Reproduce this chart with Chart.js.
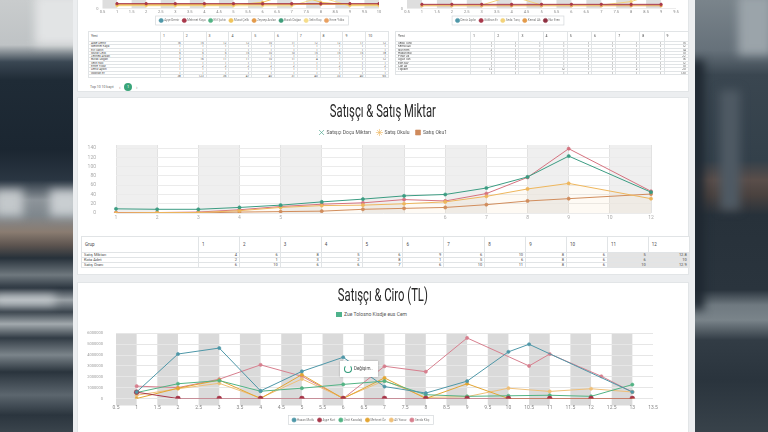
<!DOCTYPE html>
<html lang="tr">
<head>
<meta charset="utf-8">
<title>Satışçı Raporu</title>
<script src="https://cdn.jsdelivr.net/npm/chart.js@4/dist/chart.umd.min.js"></script>
<style>
html,body{margin:0;padding:0}
body{position:relative;width:768px;height:432px;overflow:hidden;background:#2b353e;font-family:Roboto,"Noto Sans",sans-serif}
.bg{position:absolute;top:0;height:432px;overflow:hidden}
#bgL{left:0;width:80px;background:linear-gradient(180deg,#c9cccd 0,#bfc3c5 45px,#3a4753 62px,#1f2b36 80px,#1b2631 150px,#2a3642 180px,#8d949a 200px,#7f878d 215px,#8a7c71 232px,#5e5550 245px,#27313a 258px,#6f787e 275px,#2c3640 288px,#9aa1a6 300px,#3b454e 312px,#a2a9ad 324px,#323c45 338px,#7b848a 355px,#2a343d 372px,#5c666e 395px,#2b353e 415px,#3a444c 432px)}
#bgR{left:688px;width:80px;background:linear-gradient(180deg,#7a848b 0,#66717a 50px,#3a4650 75px,#33404a 160px,#5a4e4a 180px,#4a423f 195px,#27313a 215px,#2a343d 290px,#6f7980 305px,#7a848a 320px,#323c45 340px,#2a343d 380px,#38424a 432px)}
.blob{position:absolute;filter:blur(5px)}
.panel{position:absolute;left:73px;top:0;width:622px;height:432px;background:#eceef0}
.card{position:absolute;left:77px;width:612px;background:#fff;border:1px solid #e2e5e7;box-sizing:border-box}
.box{position:absolute}
.ttl{position:absolute;left:77px;width:612px;text-align:center;white-space:nowrap;color:#262626;font-size:18px;line-height:22px}
.ttl span{display:inline-block;transform-origin:50% 50%}
table{position:absolute;border-collapse:collapse;table-layout:fixed;background:#fff;color:#4a4a4a}
td{border:1px solid #e1e4e6;padding:0 2px;white-space:nowrap;overflow:hidden}
.mini td{font-size:3px;line-height:2.3px;height:2.3px;text-align:right}
.mini td:first-child{text-align:left}
.mini tr.hd td{height:9px;text-align:left;vertical-align:middle;font-size:3.5px}
.grp td{font-size:4px;line-height:4px;height:4px;text-align:right}
.grp td:first-child{text-align:left}
.grp tr.hd td{height:15px;text-align:left;vertical-align:middle;font-size:4.5px;padding-left:3px}
.grp td.sh{background:#e4e4e4}
</style>
</head>
<body>
<div class="bg" id="bgL">
  <div class="blob" style="left:35px;top:-5px;width:50px;height:50px;background:#e2e4e5"></div>
  <div class="blob" style="left:-5px;top:190px;width:28px;height:26px;background:#c3c8cb"></div>
  <div class="blob" style="left:50px;top:190px;width:30px;height:26px;background:#c9ced1"></div>
  <div class="blob" style="left:-5px;top:296px;width:60px;height:8px;background:#cdd2d5"></div>
</div>
<div class="bg" id="bgR">
  <div class="blob" style="left:50px;top:-5px;width:34px;height:60px;background:#9ba4aa"></div>
  <div class="blob" style="left:32px;top:90px;width:20px;height:120px;background:#4f5a64"></div>
  <div class="blob" style="left:2px;top:60px;width:14px;height:250px;background:#1e2730"></div>
</div>

<div class="panel"></div>
<div class="card" style="top:-2px;height:94px"></div>
<div class="card" style="top:97px;height:178px"></div>
<div class="card" style="top:282px;height:160px"></div>

<!-- top section: bottoms of two small charts -->
<div class="box" style="left:80px;top:-67.5px;width:311px;height:100px"><canvas id="topLeft"></canvas></div>
<div class="box" style="left:393px;top:-67.5px;width:297px;height:100px"><canvas id="topRight"></canvas></div>
<table class="mini" id="tblLeft" style="left:88px;top:31px;width:300px"></table>
<table class="mini" id="tblRight" style="left:395px;top:31px;width:293px"></table>
<div class="box" style="left:90px;top:83px;font-size:3.5px;color:#666;line-height:8px">Top 10 10 kayıt</div>
<div class="box" style="left:119px;top:83px;font-size:5px;color:#888;line-height:8px">‹</div>
<div class="box" style="left:124px;top:83px;width:8px;height:8px;border-radius:50%;background:#3aa57a;color:#fff;font-size:4px;line-height:8px;text-align:center">1</div>
<div class="box" style="left:136px;top:83px;font-size:5px;color:#888;line-height:8px">›</div>

<!-- Satışçı & Satış Miktar -->
<div class="ttl" style="top:100px"><span data-w="106">Satışçı &amp; Satış Miktar</span></div>
<div class="box" style="left:80px;top:120px;width:610px;height:116px"><canvas id="qty"></canvas></div>
<table class="grp" id="tblGrp" style="left:81px;top:236px;width:608px"></table>

<!-- Satışçı & Ciro (TL) -->
<div class="ttl" style="top:284px"><span data-w="90">Satışçı &amp; Ciro (TL)</span></div>
<div class="box" style="left:336px;top:311px;font-size:5px;color:#555;line-height:6px;white-space:nowrap"><span style="display:inline-block;width:6px;height:5px;background:#4fb28c;vertical-align:middle;margin-right:2px"></span>Zue Tolosno Kisdje eus Cem</div>
<div class="box" style="left:80px;top:318px;width:610px;height:114px"><canvas id="ciro"></canvas></div>
<div class="box" style="left:340px;top:361px;width:38px;height:16px;background:#fff;box-shadow:0 0 2px rgba(0,0,0,.25);font-size:4.5px;color:#444;line-height:16px;white-space:nowrap">
  <span style="display:inline-block;width:6px;height:6px;margin:0 2px 0 4px;border:1.3px solid #2f9a78;border-top-color:transparent;border-radius:50%;vertical-align:middle"></span>Değişim..
</div>

<script>
// --- Satışçı & Satış Miktar ---
const qtyLabels = ['1', '2', '3', '4', '5', '', '', '', '6', '7', '8', '9', '10', '12'];
const qtyGreen  = [9, 8, 8, 12, 17, 24, 30, 37, 40, 54, 78, 123, null, 45];
const qtyYellow = [0, 1, 1, 5, 12, 16, 17, 20, 24, 36, 52, 64, null, 31];
const qtyBrown  = [0, 0, 0, 2, 3, 4, 8, 10, 12, 18, 26, 31, null, 41];
const qtyPink   = [1, 1, 2, 7, 14, 19, 22, 29, 26, 42, 77, 139, null, 47];
const qtyNames  = ['Satışçı Doçu Miktarı', 'Satış Okulu', 'Satış Oku1', 'Satış Hedefi'];
const qtyTicks  = [0, 20, 40, 60, 80, 100, 120, 140];

// table under it
const grpCols  = ['1', '2', '3', '4', '5', '6', '7', '8', '9', '10', '11', '12'];
const grpRows  = ['Satış Miktarı', 'Kota Adet', 'Satış Oranı'];
const grpSales = [4, 6, 8, 5, 6, 9, 6, 10, 8, 6, 5, 12.8];
const grpQuota = [2, 1, 3, 2, 8, 1, 5, 6, 8, 6, 6, 10.0];
const grpRate  = [6, 10, 6, 6, 7, 6, 10, 11, 8, 6, 10, 12.9];

// --- Satışçı & Ciro (TL) ---
const ciroNames   = ['Hasan Mutlu', 'Ayşe Kurt', 'Ümit Karadağ', 'Mehmet Öz', 'Ali Yavuz', 'Sevda Kılıç'];
const ciroX       = [1, 2, 3, 4, 5, 6, 7, 8, 9, 10, 11, 12, 13];
const ciroTealX   = [1, 2, 3, 4, 5, 6, 7, 8, 9, 10, 10.5, 13];
const ciroTeal    = [600000, 4100000, 4650000, 700000, 2500000, 3800000, 1100000, 500000, 1600000, 4300000, 5000000, 600000];
const ciroDark    = [580000, 0, 0, 0, 0, 0, 0, 0, 0, 0, 0, 0, 0];
const ciroGreen   = [550000, 1360000, 1650000, 670000, 950000, 1300000, 1600000, 350000, 200000, 250000, 300000, 200000, 1280000];
const ciroOrange  = [0, 950000, 1700000, 0, 2200000, 0, 1900000, 0, 1360000, 0, 0, 0, 0];
const ciroLight   = [300000, 900000, 1400000, 50000, 1800000, 50000, 1650000, 100000, 170000, 950000, 650000, 900000, 600000];
const ciroPinkX   = [1, 2, 3, 4, 5, 6, 7, 8, 9, 10.5, 11, 12.25, 13];
const ciroPink    = [1140000, 1000000, 1780000, 3100000, 2050000, 0, 2970000, 2470000, 5580000, 3000000, 4100000, 2050000, 600000];

// --- top small charts (only their bottoms are on screen) ---
const tlX = [1, 2, 3, 4, 5, 6, 7, 8, 9, 10];
const tlNames = ['Ayşe Demir', 'Mehmet Kaya', 'Elif Şahin', 'Murat Çelik', 'Zeynep Arslan', 'Burak Doğan', 'Selin Koç', 'Emre Yıldız'];
const tlTeal   = [48, 52, 40, 61, 55, 47, 58, 50, 44, 53];
const tlDark   = [7, 7, 7, 7, 7, 7, 7, 7, 7, 7];
const tlGreen  = [30, 35, 28, 40, 33, 31, 38, 36, 29, 34];
const tlYellow = [5, 5, 5, 5, 5, 9, 22, 9, 5, 5];
const tlOrange = [6, 6, 6, 6, 6, 6, 6, 6, 6, 6];
const tlGreen2 = [70, 66, 72, 68, 75, 71, 64, 69, 73, 67];
const tlPale   = [4, 4, 4, 4, 4, 4, 4, 16, 4, 4];
const tlCoral  = [20, 24, 18, 26, 22, 19, 25, 21, 23, 20];

const trX = [1, 2, 3, 4, 5, 6, 7, 8, 9];
const trNames = ['Deniz Aydın', 'Gökhan Er', 'Seda Tunç', 'Kemal Ak', 'Nur Eren'];
const trTeal   = [45, 50, 42, 55, 48, 52, 46, 49, 51];
const trDark   = [6, 6, 6, 6, 6, 6, 6, 6, 6];
const trPale   = [5, 5, 5, 18, 5, 5, 5, 10, 24];
const trOrange = [4, 4, 4, 4, 4, 4, 4, 4, 4];
const trDark2  = [60, 58, 63, 57, 61, 59, 62, 60, 58];

// top tables
const tblLeftHead = ['Yeni', '1', '2', '3', '4', '5', '6', '7', '8', '9', '10'];
const tblLeftNames = ['Ayşe Demir', 'Mehmet Kaya', 'Elif Şahin', 'Murat Çelik', 'Zeynep Arslan', 'Burak Doğan', 'Selin Koç', 'Emre Yıldız', 'Deniz Aydın', 'Gökhan Er', ''];
const tblLeftVals = [
  [16, 15, 12, 12, 10, 11, 12, 12, 17, 12],
  [1, 1, 1, 1, 1, 1, 1, 1, 1, 1],
  [1, 1, 1, 1, 1, 1, 1, 1, 1, 1],
  [5, 5, 5, 15, 10, 10, 15, 15, 15, 18],
  [1, 1, 1, 1, 1, 1, 1, 1, 1, 1],
  [9, 16, 11, 11, 10, 11, 4, 1, 1, 12],
  [1, 1, 1, 1, 1, 1, 1, 1, 1, 1],
  [1, 2, 2, 2, 2, 2, 1, 2, 1, 2],
  [1, 1, 1, 1, 1, 1, 1, 1, 1, 1],
  [1, 1, 1, 1, 1, 1, 1, 1, 1, 1],
  [38, 123, 36, 47, 40, 31, 40, 33, 40, 65]
];
const tblRightHead = ['Yeni', '1', '2', '3', '4', '5', '6', '7', '8', '9'];
const tblRightNames = ['Seda Tunç', 'Kemal Ak', 'Nur Eren', 'Hakan Bal', 'Pınar Ok', 'Oğuz Tan', 'Ece Say', 'Can Ay', 'Toplam', ''];
const tblRightVals = [
  [1, 1, 1, 1, 1, 1, 1, 1, 15],
  [1, 1, 1, 1, 1, 1, 1, 1, 12],
  [2, 1, 1, 1, 1, 1, 1, 1, 14],
  [1, 1, 1, 1, 1, 1, 1, 1, 10],
  [1, 1, 1, 1, 1, 1, 1, 1, 22],
  [1, 1, 1, 1, 1, 1, 1, 1, 16],
  [1, 1, 1, 1, 1, 1, 1, 1, 12],
  [1, 1, 1, 1, 1, 1, 1, 1, 10],
  [12, 1, 1, 12, 1, 1, 2, 1, 20],
  [1, 1, 1, 1, 1, 1, 1, 1, 130]
];

// ---------------------------------------------------------------
Chart.defaults.font.family = 'Roboto, "Noto Sans", sans-serif';
Chart.defaults.animation = false;

const xy = (xs, ys) => xs.map((x, i) => ({x: x, y: ys[i]}));

function line(label, data, color, extra) {
  return Object.assign({
    label: label, data: data,
    borderColor: color, backgroundColor: color,
    pointBackgroundColor: color, pointBorderColor: color,
    borderWidth: 1, pointRadius: 1.6, pointBorderWidth: 0.6,
    tension: 0, spanGaps: true, fill: false
  }, extra || {});
}

// grey columns behind the lines
function bands(ranges, color, extend) {
  return {
    id: 'bands',
    beforeDraw(chart) {
      const {ctx, chartArea: a, scales: {x}} = chart;
      ctx.save();
      ctx.fillStyle = color;
      ranges.forEach(r => {
        const x1 = x.getPixelForValue(r[0]), x2 = x.getPixelForValue(r[1]);
        ctx.fillRect(x1, a.top, x2 - x1, a.bottom - a.top + (extend || 0));
      });
      ctx.restore();
    }
  };
}

// move the legend so that it is centred on cx (canvas px)
function shiftLegend(cx, dy) {
  return {
    id: 'shiftLegend',
    afterLayout(chart) {
      const lg = chart.legend;
      if (!lg) return;
      const dx = cx - (lg.left + lg.right) / 2;
      lg.left += dx; lg.right += dx;
      lg.top += dy; lg.bottom += dy;
    }
  };
}

// thin frame around the legend items
const legendFrame = {
  id: 'legendFrame',
  afterDraw(chart) {
    const hb = chart.legend && chart.legend.legendHitBoxes;
    if (!hb || !hb.length) return;
    let l = Infinity, t = Infinity, r = -Infinity, b = -Infinity;
    hb.forEach(h => { l = Math.min(l, h.left); t = Math.min(t, h.top); r = Math.max(r, h.left + h.width); b = Math.max(b, h.top + h.height); });
    const ctx = chart.ctx;
    ctx.save();
    ctx.strokeStyle = '#d3d7da';
    ctx.lineWidth = 0.7;
    ctx.strokeRect(l - 4, t - 3, r - l + 8, b - t + 6);
    ctx.restore();
  }
};

const tickFont = size => ({size: size});

// --- middle chart ---
const qtyBands = [];
for (let i = 0; i + 1 < qtyLabels.length; i += 2) qtyBands.push([i, i + 1]);
const qtyMarks = ['crossRot', 'star', 'rect'];

new Chart(document.getElementById('qty'), {
  type: 'line',
  data: {
    labels: qtyLabels,
    datasets: [
      line(qtyNames[0], qtyGreen, '#3b9c82'),
      line(qtyNames[1], qtyYellow, '#eeb65c', {fill: 'origin', backgroundColor: 'rgba(240,185,95,0.07)'}),
      line(qtyNames[2], qtyBrown, '#cf8a5c'),
      line(qtyNames[3], qtyPink, '#d5727f')
    ]
  },
  options: {
    responsive: true, maintainAspectRatio: false,
    layout: {padding: {left: 0, right: 39, top: 4, bottom: 2}},
    plugins: {
      tooltip: {enabled: false},
      legend: {
        position: 'top',
        labels: {
          font: {size: 5}, color: '#555', padding: 6, boxWidth: 5, usePointStyle: true,
          generateLabels(chart) {
            const items = Chart.defaults.plugins.legend.labels.generateLabels(chart);
            return items.map((it, i) => Object.assign(it, {pointStyle: qtyMarks[i] || 'circle'}));
          },
          filter: item => item.datasetIndex < 3
        }
      }
    },
    scales: {
      x: {
        grid: {color: '#e2e2e2', drawTicks: false}, border: {display: false},
        ticks: {font: tickFont(5), color: '#aaa', padding: 2, autoSkip: false, maxRotation: 0},
        afterFit(s) { s.height = 9; }
      },
      y: {
        min: 0, max: 147,
        afterBuildTicks(s) { s.ticks = qtyTicks.map(v => ({value: v})); },
        grid: {color: '#ebebeb', drawTicks: false}, border: {display: false},
        ticks: {font: tickFont(5), color: '#aaa', padding: 20},
        afterFit(s) { s.width = 36; }
      }
    }
  },
  plugins: [bands(qtyBands, '#efefef', 0), shiftLegend(303, 0)]
});

// --- bottom chart ---
const ciroBands = ciroX.map(k => [k - 0.5, k]);
new Chart(document.getElementById('ciro'), {
  type: 'line',
  data: {
    datasets: [
      line(ciroNames[0], xy(ciroTealX, ciroTeal), '#4e97a8'),
      line(ciroNames[1], xy(ciroX, ciroDark), '#a8374a', {pointRadius: 2.4}),
      line(ciroNames[2], xy(ciroX, ciroGreen), '#52b384'),
      line(ciroNames[3], xy(ciroX, ciroOrange), '#e3a532'),
      line(ciroNames[4], xy(ciroX, ciroLight), '#efbf78'),
      line(ciroNames[5], xy(ciroPinkX, ciroPink), '#d77f8e')
    ]
  },
  options: {
    responsive: true, maintainAspectRatio: false,
    layout: {padding: {left: 0, right: 37, top: 8.7, bottom: 3.5}},
    plugins: {
      tooltip: {enabled: false},
      legend: {
        position: 'bottom',
        labels: {font: {size: 3}, color: '#777', padding: 4, boxWidth: 3.5, usePointStyle: true}
      }
    },
    scales: {
      x: {
        type: 'linear', min: 0.5, max: 13.5,
        grid: {display: false, drawTicks: false}, border: {display: false},
        ticks: {stepSize: 0.5, autoSkip: false, maxRotation: 0, font: tickFont(5), color: '#888', padding: 6.5, callback: v => String(v)},
        afterFit(s) { s.height = 13; }
      },
      y: {
        min: 0, max: 6000000,
        grid: {color: '#e6e6e6', drawTicks: false}, border: {display: false},
        ticks: {stepSize: 1000000, font: tickFont(4), color: '#999', padding: 13, callback: v => String(v)},
        afterFit(s) { s.width = 36; }
      }
    }
  },
  plugins: [bands(ciroBands, '#dadada', 7), shiftLegend(281, 3), legendFrame]
});

// --- top small charts ---
function miniChart(id, xs, sets, colors, names, xmin, xmax, yWidth, padRight, cx) {
  return new Chart(document.getElementById(id), {
    type: 'line',
    data: {datasets: sets.map((s, i) => line(names[i], xy(xs, s), colors[i], {pointRadius: 1.3}))},
    options: {
      responsive: true, maintainAspectRatio: false,
      layout: {padding: {left: 0, right: padRight, top: 5, bottom: 1}},
      plugins: {
        tooltip: {enabled: false},
        legend: {position: 'bottom', labels: {font: {size: 3}, color: '#777', padding: 3.5, boxWidth: 3, usePointStyle: true}}
      },
      scales: {
        x: {
          type: 'linear', min: xmin, max: xmax,
          grid: {display: false, drawTicks: false}, border: {display: false},
          ticks: {stepSize: 0.5, autoSkip: false, maxRotation: 0, font: tickFont(4), color: '#888', padding: 1.5, callback: v => String(v)},
          afterFit(s) { s.height = 7; }
        },
        y: {
          min: 0, max: 100,
          grid: {color: '#ececec', drawTicks: false}, border: {display: false},
          ticks: {font: tickFont(4), color: '#999', padding: 4, stepSize: 20},
          afterFit(s) { s.width = yWidth; }
        }
      }
    },
    plugins: [bands(xs.map(k => [k - 0.5, k]), '#dedede', 0), shiftLegend(cx, 0), legendFrame]
  });
}

miniChart('topLeft', tlX,
  [tlTeal, tlDark, tlGreen, tlYellow, tlOrange, tlGreen2, tlPale, tlCoral],
  ['#4e97a8', '#a8374a', '#52b384', '#f0c45a', '#e39a4a', '#3e9d7a', '#f5dc8a', '#e8a060'],
  tlNames, 0.5, 10, 22.5, 12, 172);
miniChart('topRight', trX,
  [trTeal, trDark, trPale, trOrange, trDark2],
  ['#4e97a8', '#a8374a', '#f3d37a', '#e39a4a', '#8e2f40'],
  trNames, 0.5, 9.5, 14, 14, 115);

// --- tables ---
function fillTable(id, head, names, rows, widths) {
  const t = document.getElementById(id);
  const cg = document.createElement('colgroup');
  widths.forEach(w => { const c = document.createElement('col'); c.style.width = w + 'px'; cg.appendChild(c); });
  t.appendChild(cg);
  const hr = t.insertRow(); hr.className = 'hd';
  head.forEach(h => { hr.insertCell().textContent = h; });
  rows.forEach((r, i) => {
    const tr = t.insertRow();
    tr.insertCell().textContent = names[i];
    r.forEach(v => { tr.insertCell().textContent = v; });
  });
  return t;
}
fillTable('tblLeft', tblLeftHead, tblLeftNames, tblLeftVals, [72].concat(tblLeftVals[0].map(() => 22.8)));
fillTable('tblRight', tblRightHead, tblRightNames, tblRightVals, [75].concat(tblRightVals[0].map(() => 24.2)));
const grp = fillTable('tblGrp', ['Grup'].concat(grpCols), grpRows, [grpSales, grpQuota, grpRate], [117].concat(grpCols.map(() => 40.9)));
for (let r = 1; r < grp.rows.length; r++) {
  const cells = grp.rows[r].cells;
  cells[cells.length - 1].className = 'sh';
  cells[cells.length - 2].className = 'sh';
}

// condensed titles
document.querySelectorAll('.ttl span').forEach(s => {
  const w = s.getBoundingClientRect().width;
  s.style.transform = 'scaleX(' + (s.dataset.w / w) + ')';
});
</script>
</body>
</html>
